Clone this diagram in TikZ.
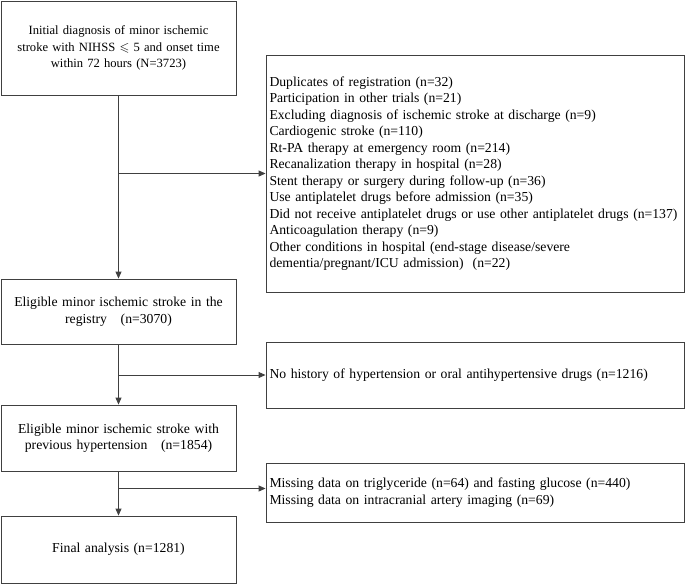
\documentclass[tikz,border=0pt]{standalone}
\usepackage{amssymb}
\usepackage{fontspec}
\setmainfont{Liberation Serif}
\usepackage{tikz}
\usetikzlibrary{positioning,arrows.meta}

\tikzset{
  flowbox/.style={draw=black!75, line width=0.9pt, rectangle, align=center,
    text width=229pt, inner xsep=3pt, minimum width=235pt,
    font=\fontsize{13.7}{16.5}\selectfont},
  exclbox/.style={draw=black!75, line width=0.9pt, rectangle, align=left,
    text width=411pt, inner xsep=3.5pt, minimum width=418pt,
    font=\fontsize{13.7}{16.5}\selectfont},
  flowarrow/.style={draw=black!75, line width=0.9pt, -{Triangle[length=7pt,width=6pt]}}
}

\begin{document}
\begin{tikzpicture}[x=1pt,y=-1pt]
\useasboundingbox (0,0) rectangle (685,584);
% main column
\node[flowbox, minimum height=94pt, font=\fontsize{12.6}{16.5}\selectfont] (init) at (118.5,48) {Initial diagnosis of minor ischemic\\ stroke with NIHSS $\leqslant$ 5 and onset time\\ within 72 hours (N=3723)};
\node[flowbox, minimum height=65pt] (reg) at (118.5,311.5) {Eligible minor ischemic stroke in the\\ registry\ \ \ (n=3070)};
\node[flowbox, minimum height=66pt] (hyp) at (118.5,438) {Eligible minor ischemic stroke with\\ previous hypertension\ \ \ (n=1854)};
\node[flowbox, minimum height=67pt] (final) at (118.5,549.5) {Final analysis (n=1281)};
% exclusions
\node[exclbox, minimum height=237pt] (excl) at (475,173.5) {Duplicates of registration (n=32)\\
  Participation in other trials (n=21)\\
  Excluding diagnosis of ischemic stroke at discharge (n=9)\\
  Cardiogenic stroke (n=110)\\
  Rt-PA therapy at emergency room (n=214)\\
  Recanalization therapy in hospital (n=28)\\
  Stent therapy or surgery during follow-up (n=36)\\
  Use antiplatelet drugs before admission (n=35)\\
  Did not receive antiplatelet drugs or use other antiplatelet drugs (n=137)\\
  Anticoagulation therapy (n=9)\\
  Other conditions in hospital (end-stage disease/severe\\
  dementia/pregnant/ICU admission)\ \ (n=22)};
\node[exclbox, minimum height=66pt] (nohyp) at (475,375) {No history of hypertension or oral antihypertensive drugs (n=1216)};
\node[exclbox, minimum height=59pt] (miss) at (475,492.5) {Missing data on triglyceride (n=64) and fasting glucose (n=440)\\
  Missing data on intracranial artery imaging (n=69)};

\coordinate (b3) at ([yshift=4pt]miss.west);

\draw[flowarrow] (init) -- (reg);
\draw[flowarrow] (reg) -- (hyp);
\draw[flowarrow] (hyp) -- (final);
\draw[flowarrow] (init.south |- excl.west) -- (excl.west);
\draw[flowarrow] (reg.south |- nohyp.west) -- (nohyp.west);
\draw[flowarrow] (hyp.south |- b3) -- (b3);
\end{tikzpicture}
\end{document}
